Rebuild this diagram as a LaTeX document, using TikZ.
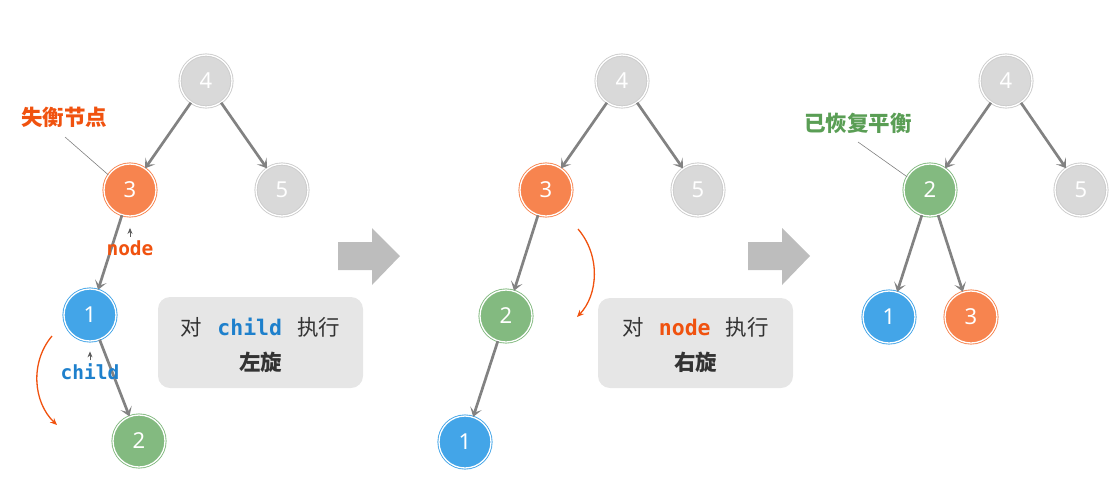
\documentclass[tikz,border=0pt]{standalone}
\usepackage{fontspec}
\usetikzlibrary{arrows.meta}
\newfontfamily\cjk{Noto Sans CJK SC}
\newfontfamily\monof{DejaVu Sans Mono}
\newfontfamily\numf{Noto Sans}
\definecolor{cgray}{HTML}{D9D9D9}
\definecolor{corange}{HTML}{F7844F}
\definecolor{cblue}{HTML}{43A5E8}
\definecolor{cgreen}{HTML}{83BA80}
\definecolor{edgec}{HTML}{828282}
\definecolor{txtorange}{HTML}{F0520F}
\definecolor{txtblue}{HTML}{1E80CC}
\definecolor{txtgreen}{HTML}{5A9E55}
\definecolor{boxc}{HTML}{E6E6E6}
\definecolor{bigarrow}{HTML}{BDBDBD}
\definecolor{darktxt}{HTML}{333333}
\begin{document}
\begin{tikzpicture}[x=1pt,y=-1pt,
  tnode/.style={circle, minimum size=52pt, inner sep=0pt, line width=0.9pt, double=white, double distance=1.3pt, text=white, font=\numf\fontsize{22}{22}\selectfont},
  gnode/.style={tnode, fill=cgray, draw=cgray!85!gray},
  onode/.style={tnode, fill=corange, draw=corange},
  bnode/.style={tnode, fill=cblue, draw=cblue},
  vnode/.style={tnode, fill=cgreen, draw=cgreen},
  edge/.style={draw=edgec, line width=2.7pt, -{Stealth[length=9pt,width=12pt,inset=4.5pt]}},
  leader/.style={draw=gray, line width=0.6pt},
  rot/.style={draw=txtorange, line width=1.3pt, -{Stealth[length=7pt,width=6pt]}},
  ptr/.style={draw=darktxt!80, line width=0.9pt, -{Stealth[length=6pt,width=5pt]}},
  lbl/.style={font=\cjk\bfseries\fontsize{21.5}{21.5}\selectfont},
  codelbl/.style={font=\monof\bfseries\fontsize{19.5}{19.5}\selectfont},
  opbox/.style={fill=boxc, rounded corners=12pt, draw=none},
  boxtxt/.style={text=darktxt, font=\cjk\fontsize{21.5}{21.5}\selectfont}
]
\useasboundingbox (0,0) rectangle (1113,480);

% ---------- Panel 1 ----------
\node[gnode] (a4) at (206,81) {4};
\node[onode] (a3) at (130,190) {3};
\node[gnode] (a5) at (282,190) {5};
\node[bnode] (a1) at (90,315) {1};
\node[vnode] (a2) at (139,441) {2};
\draw[edge] (a4) -- (a3);
\draw[edge] (a4) -- (a5);
\draw[edge] (a3) -- (a1);
\draw[edge] (a1) -- (a2);

\node[lbl, text=txtorange] (la) at (64,117) {失衡节点};
\coordinate (la1) at (65,137);
\draw[leader] (la1) -- (a3.145);
\node[codelbl, text=txtorange] (lnode) at (130,248) {node};
\draw[ptr] (lnode.north) -- ++(0,-9);
\node[codelbl, text=txtblue] (lchild) at (90,372) {child};
\draw[ptr] (lchild.north) -- ++(0,-9);
\coordinate (r1s) at (52,336);
\coordinate (r1e) at (57,425);
\draw[rot] (r1s) .. controls (30,362) and (33,402) .. (r1e);

\draw[opbox] (158,297) rectangle (363,388);
\node[boxtxt] (b1a) at (260.5,327) {对\hspace{0.7em}{\monof\bfseries\color{txtblue}child}\hspace{0.7em}执行};
\node[boxtxt, font=\cjk\bfseries\fontsize{21.5}{21.5}\selectfont] (b1b) at (260.5,362) {左旋};

% big arrow 1
\fill[bigarrow] (338,242) -- (372,242) -- (372,228) -- (400,256) -- (372,285) -- (372,270) -- (338,270) -- cycle;

% ---------- Panel 2 ----------
\node[gnode] (b4) at (622,81) {4};
\node[onode] (b3) at (546,190) {3};
\node[gnode] (b5) at (698,190) {5};
\node[vnode] (b2) at (506,316) {2};
\node[bnode] (b1) at (465,442) {1};
\draw[edge] (b4) -- (b3);
\draw[edge] (b4) -- (b5);
\draw[edge] (b3) -- (b2);
\draw[edge] (b2) -- (b1);
\coordinate (r2s) at (578,229);
\coordinate (r2e) at (577,317);
\draw[rot] (r2s) .. controls (601,256) and (598,295) .. (r2e);

\draw[opbox] (598,298) rectangle (793,388);
\node[boxtxt] (b2a) at (695.5,327) {对\hspace{0.7em}{\monof\bfseries\color{txtorange}node}\hspace{0.7em}执行};
\node[boxtxt, font=\cjk\bfseries\fontsize{21.5}{21.5}\selectfont] (b2b) at (695.5,362) {右旋};

% big arrow 2
\fill[bigarrow] (748,242) -- (782,242) -- (782,228) -- (810,256) -- (782,285) -- (782,270) -- (748,270) -- cycle;

% ---------- Panel 3 ----------
\node[gnode] (c4) at (1006,81) {4};
\node[vnode] (c2) at (930,190) {2};
\node[gnode] (c5) at (1081,190) {5};
\node[bnode] (c1) at (889,317) {1};
\node[onode] (c3) at (971,317) {3};
\draw[edge] (c4) -- (c2);
\draw[edge] (c4) -- (c5);
\draw[edge] (c2) -- (c1);
\draw[edge] (c2) -- (c3);

\node[lbl, text=txtgreen] (lc) at (858,123) {已恢复平衡};
\coordinate (lc1) at (858,142);
\draw[leader] (lc1) -- (c2.150);
\end{tikzpicture}
\end{document}
